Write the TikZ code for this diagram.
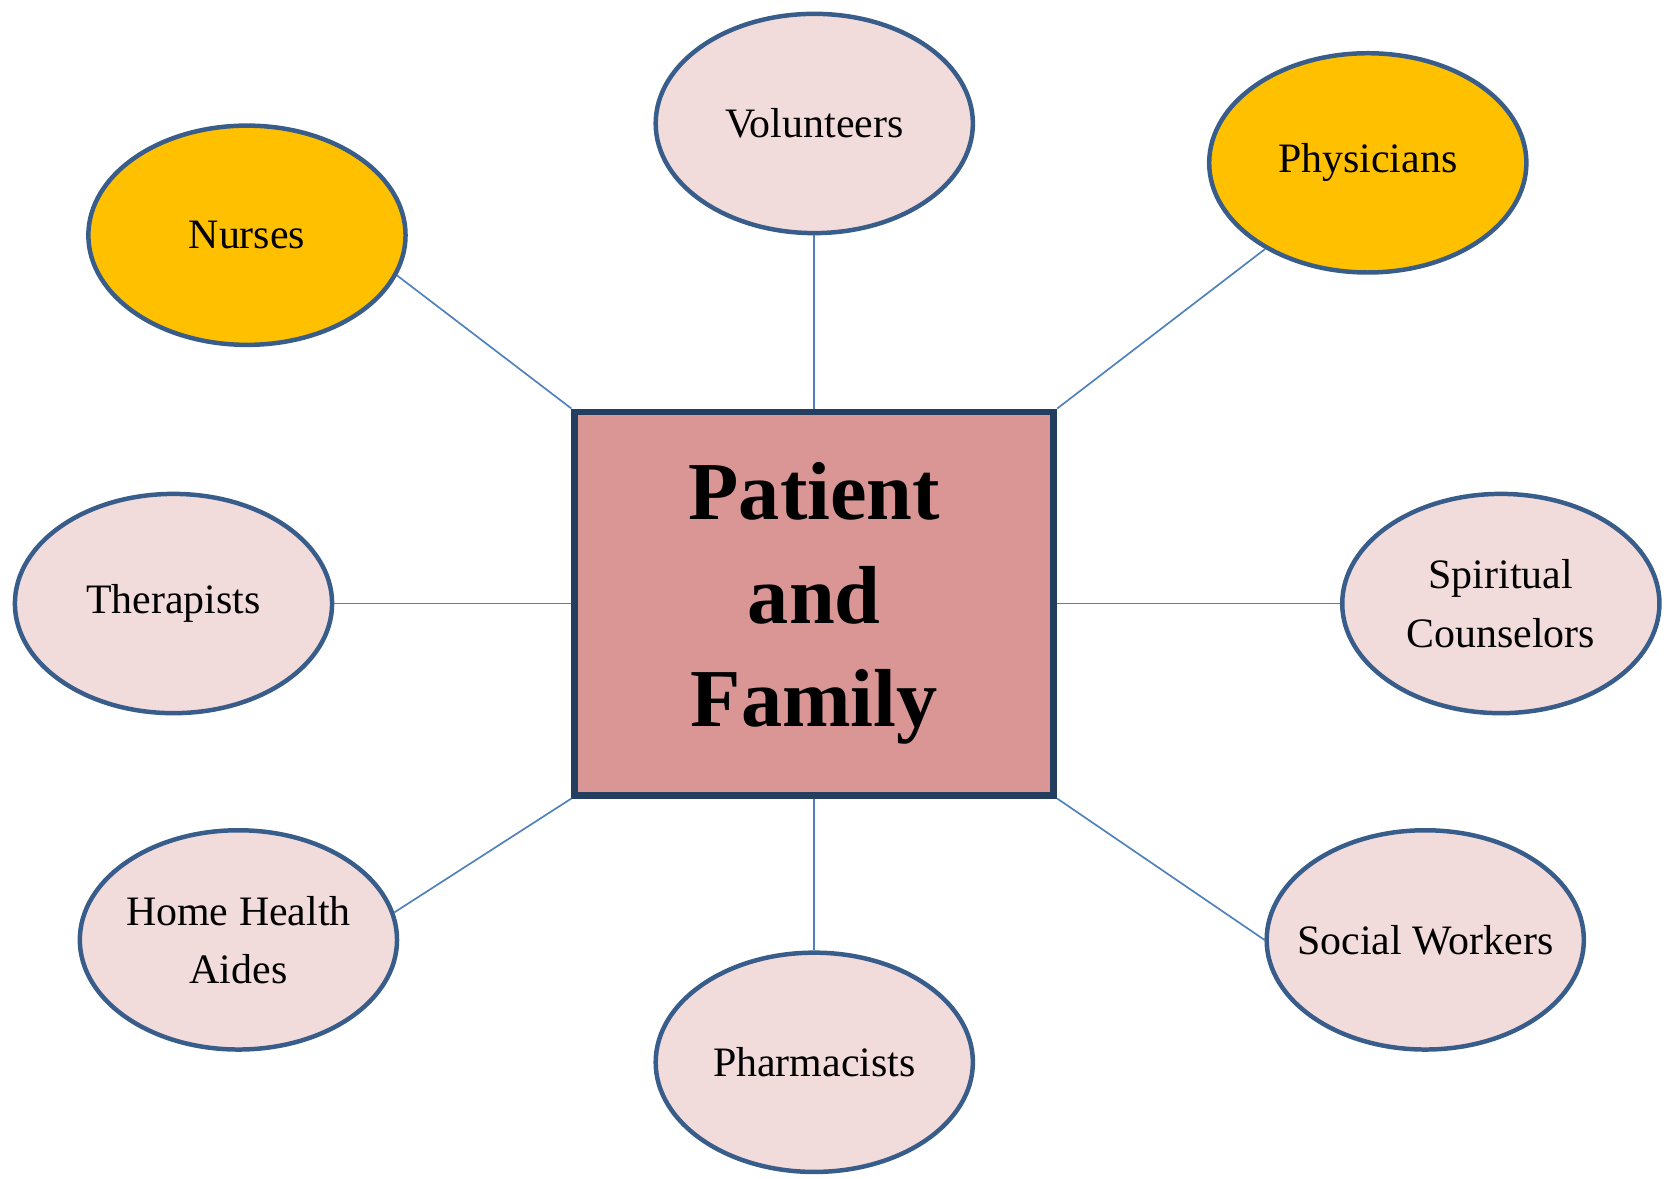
\documentclass[tikz,border=0pt]{standalone}
\usepackage{fontspec}
\setmainfont{Liberation Serif}
\usetikzlibrary{shapes.geometric}
\definecolor{RoleClr}{RGB}{242,220,219}
\definecolor{KeyClr}{RGB}{255,192,0}
\definecolor{EdgeClr}{RGB}{56,93,138}
\definecolor{CoreClr}{RGB}{217,150,148}
\definecolor{CoreEdgeClr}{RGB}{36,62,95}
\definecolor{LinkClr}{RGB}{79,129,189}

\begin{document}
\begin{tikzpicture}[
  role/.style={ellipse,draw=EdgeClr,line width=1.2pt,fill=RoleClr,
    minimum width=2.98cm,minimum height=2.06cm,inner xsep=-0.6cm,inner ysep=0pt,
    align=center,font=\fontsize{11.2}{15.6}\selectfont},
  keyrole/.style={role,fill=KeyClr},
  core/.style={rectangle,draw=CoreEdgeClr,line width=1.8pt,fill=CoreClr,
    minimum width=4.5cm,minimum height=3.6cm,inner sep=0pt,
    align=center,font=\fontsize{22}{27.6}\selectfont\bfseries},
  link/.style={draw=LinkClr,line width=0.45pt}]
\useasboundingbox (0,0) rectangle (15.68,11.07);

% The patient sits in the middle.
\node[core] (PF) at (7.65,5.40) {Patient\\and\\Family};

% The team round the patient.
\node[role]    (Vol)   at (7.65,9.91)  {Volunteers};
\node[keyrole] (Phys)  at (12.85,9.54) {Physicians};
\node[keyrole] (Nurse) at (2.32,8.86)  {Nurses};
\node[role]    (Ther)  at (1.63,5.40)  {Therapists};
\node[role]    (Spir)  at (14.10,5.40) {Spiritual\\Counselors};
\node[role]    (Aide)  at (2.24,2.24)  {Home Health\\Aides};
\node[role]    (Pharm) at (7.65,1.09)  {Pharmacists};
\node[role]    (Soc)   at (13.39,2.24) {Social Workers};

% Connect the team to the patient.
\foreach \a/\b in {PF.north/Vol.south, PF.north east/Phys.220,
    PF.north west/Nurse.-15, PF.west/Ther.east, PF.east/Spir.west,
    PF.south west/Aide.10, PF.south/Pharm.north, PF.south east/Soc.west}
  \draw[link] (\a) -- (\b);

\end{tikzpicture}
\end{document}
